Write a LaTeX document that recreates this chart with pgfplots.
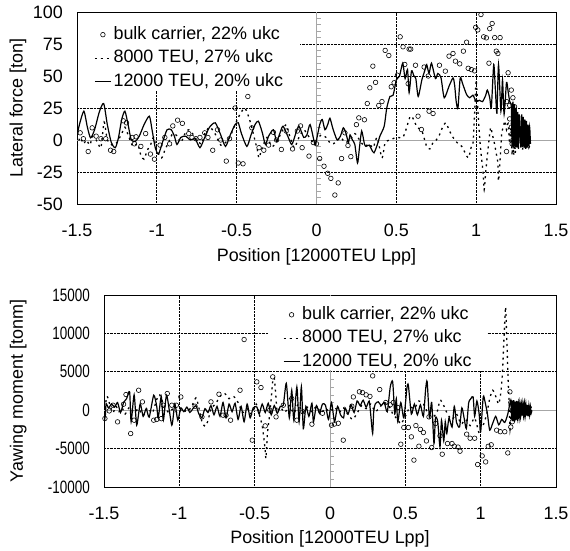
\documentclass[border=0pt]{standalone}
\usepackage{pgfplots}
\pgfplotsset{compat=1.18}
\usepackage{fontspec}
\setmainfont{Liberation Sans}
\newfontfamily\narrowfont{Liberation Sans}[FakeStretch=0.75]
\newcommand{\ff}{\fontsize{18}{21}\selectfont}

\pgfplotsset{
  myaxis/.style={
    scale only axis, xmin=-1.5, xmax=1.5,
    scaled y ticks=false, scaled x ticks=false,
    xtick={-1.5,-1,-0.5,0,0.5,1,1.5},
    xticklabels={-1.5,-1,-0.5,0,0.5,1,1.5},
    major tick length=0pt,
    grid=major,
    major grid style={black, densely dotted, line width=0.8bp},
    axis line style={black, line width=0.8bp},
    tick label style={font=\ff},
    label style={font=\ff},
    xticklabel style={anchor=center, inner sep=0pt, yshift=-26bp},
    yticklabel style={anchor=east, inner sep=0pt, xshift=-14bp},
    legend cell align=left,
    legend image code/.code={\draw[mark repeat=2,mark phase=2,##1] plot coordinates {(0bp,0bp) (8bp,0bp) (16bp,0bp)};},
    legend style={draw=none, fill=none, font=\ff, inner sep=2bp, row sep=2.5bp,
      nodes={inner sep=2bp, text height=13bp, text depth=4bp}},
  },
  bulk/.style={only marks, mark=o, mark size=2.3bp, black, mark options={line width=0.6bp, solid}},
  teu8/.style={black, line width=1.3bp, dash pattern=on 2bp off 4bp, smooth, tension=0.4, mark=none},
  teu12/.style={black, line width=1.2bp, smooth, tension=0.4, mark=none},
}

\begin{document}
\begin{tikzpicture}
\useasboundingbox (0,0) rectangle (570bp,551bp);

% ---------------- top: lateral force ----------------
\begin{axis}[myaxis,
  at={(77bp,347bp)}, anchor=south west,
  width=479bp, height=192bp,
  ymin=-50, ymax=100,
  ytick={-50,-25,0,25,50,75,100},
  yticklabels={-50,-25,0,25,50,75,100},
  xlabel={Position [12000TEU Lpp]},
  ylabel={Lateral force [ton]},
  xlabel style={at={(axis description cs:0.5,-0.275)}, anchor=center},
  ylabel style={at={(axis description cs:-0.123,0.5)}, anchor=center},
  legend style={at={(axis description cs:0.0314,0.948)}, anchor=north west},
]
\draw[gray!70, line width=0.9bp] (axis cs:-1.5,0) -- (axis cs:1.5,0);
\draw[gray!70, line width=0.9bp] (axis cs:0,-50) -- (axis cs:0,100);
\pgfplotsinvokeforeach{-45,-40,-35,-30,-20,-15,-10,-5,5,10,15,20,30,35,40,45,55,60,65,70,80,85,90,95}{\draw[gray!70, line width=0.6bp] (axis cs:0,#1) -- ++(4bp,0bp);}
\fill[white] (rel axis cs:0.002,0.996) rectangle (rel axis cs:0.4656,0.594);

\addplot[bulk] coordinates {
(-1.48,5.6) (-1.46,1) (-1.43,-9) (-1.405,9.5) (-1.38,3) (-1.35,1) (-1.32,1)
(-1.29,-8) (-1.27,-9) (-1.21,15) (-1.19,13.4) (-1.155,2) (-1.13,2.5) (-1.14,-3)
(-1.10,-5) (-1.07,5) (-1.04,-11) (-1.015,-15) (-0.98,-4) (-0.95,2) (-0.92,-3)
(-0.90,11) (-0.87,15.5) (-0.84,13) (-0.80,5) (-0.78,2) (-0.755,1) (-0.73,2)
(-0.70,5.6) (-0.68,2) (-0.65,-8) (-0.62,8) (-0.60,0) (-0.565,-16.5) (-0.545,1)
(-0.51,25) (-0.49,-18) (-0.46,-18.6) (-0.43,34) (-0.405,9.5) (-0.36,-6) (-0.33,-8)
(-0.30,-4) (-0.27,6) (-0.25,0) (-0.22,-7.4) (-0.19,7) (-0.15,-7) (-0.12,7)
(-0.10,11) (-0.09,-6) (-0.047,-12.6) (-0.02,-2) (0.0,-3) (0.02,-14.5) (0.047,-20.5)
(0.07,-26) (0.09,-30) (0.115,-43) (0.136,-33.5) (0.157,-14.5) (0.178,5.6) (0.197,-4.3)
(0.215,-13) (0.25,12) (0.265,17.3) (0.30,15.8) (0.318,28.5) (0.334,40.8) (0.353,57.7)
(0.37,45) (0.39,27) (0.41,30) (0.43,70) (0.453,66) (0.468,41.6) (0.486,44.7)
(0.507,50.6) (0.524,80.6) (0.542,72.8) (0.553,59) (0.574,44) (0.58,71) (0.59,71)
(0.62,58.4) (0.636,18.6) (0.657,8.2) (0.674,57) (0.70,50) (0.705,22.5) (0.73,20.7)
(0.77,58.4) (0.807,53.8) (0.83,65.5) (0.855,67.6) (0.87,61.6) (0.897,59.5) (0.92,69.4)
(0.94,76.4) (0.95,56) (0.97,55) (0.99,54) (0.997,88) (1.01,86) (1.03,98)
(1.047,80.6) (1.064,79.8) (1.08,60) (1.085,87) (1.10,91) (1.116,80) (1.126,69.4)
(1.136,67.6) (1.15,80) (1.2,52.5) (1.22,39) (1.19,30) (1.21,27) (1.23,33) (1.24,26)
(1.21,16.5) (1.22,10) (1.225,5) (1.23,0) (1.225,-3) (1.19,-9)
};
\addlegendentry{bulk carrier, 22\% ukc}

\addplot[teu8] coordinates {
(-1.50,-5) (-1.48,2) (-1.46,-3) (-1.44,0) (-1.42,-4) (-1.40,3) (-1.37,-2) (-1.35,-6)
(-1.33,14) (-1.31,0) (-1.28,-4) (-1.25,-2) (-1.22,5) (-1.20,10) (-1.18,4) (-1.15,-5)
(-1.12,-3) (-1.10,-12) (-1.08,-15) (-1.06,-8) (-1.04,-4) (-1.02,2) (-1.00,-8) (-0.97,-14)
(-0.95,-8) (-0.92,0) (-0.90,5) (-0.87,3) (-0.85,-2) (-0.82,6) (-0.80,8) (-0.77,4)
(-0.75,0) (-0.72,-3) (-0.70,5) (-0.67,10) (-0.64,6) (-0.60,-4) (-0.57,-2) (-0.54,3)
(-0.51,12) (-0.48,20) (-0.45,25) (-0.43,20) (-0.41,12) (-0.39,2) (-0.37,-8) (-0.36,-14)
(-0.34,-6) (-0.31,2) (-0.28,-5) (-0.25,-2) (-0.22,6) (-0.19,12) (-0.17,4) (-0.14,-6)
(-0.11,2) (-0.08,8) (-0.05,3) (-0.02,-2) (0.00,0) (0.03,4) (0.06,2) (0.09,-3)
(0.12,-2) (0.15,2) (0.18,-2) (0.21,0) (0.24,5) (0.27,0) (0.30,-5) (0.33,-3)
(0.355,-6) (0.38,2) (0.41,-14) (0.43,-2) (0.46,0) (0.50,2) (0.54,2) (0.56,8)
(0.585,18) (0.60,18) (0.63,10) (0.66,7) (0.69,-5) (0.71,-7) (0.73,-2) (0.75,0)
(0.77,4) (0.79,10) (0.81,13.4) (0.83,8) (0.85,3) (0.88,-2) (0.91,-5) (0.95,-14)
(0.97,-5) (0.98,-3) (0.99,20) (1.00,47) (1.01,25) (1.02,5) (1.03,-10) (1.043,-25)
(1.05,-39) (1.06,-25) (1.07,-12) (1.09,9.5) (1.10,5) (1.115,-3) (1.125,-10) (1.136,-18)
(1.14,-32) (1.15,-15) (1.16,5) (1.17,10) (1.18,15) (1.19,8) (1.20,13) (1.21,-3)
(1.22,13) (1.225,-12) (1.23,10) (1.235,-12) (1.24,8) (1.245,-10) (1.25,5) (1.26,-4)
(1.28,12) (1.29,-8) (1.30,10) (1.31,-8) (1.32,8) (1.33,-6) (1.34,0)
};
\addlegendentry{8000 TEU, 27\% ukc}

\addplot[teu12] coordinates {
(-1.50,3) (-1.485,12) (-1.457,22.5) (-1.435,10) (-1.415,1.7) (-1.39,8) (-1.36,22)
(-1.333,28.5) (-1.31,12) (-1.285,-2) (-1.26,-6) (-1.24,2) (-1.22,16) (-1.20,22.5)
(-1.18,12) (-1.16,0) (-1.134,-1) (-1.11,3) (-1.08,12) (-1.047,18.6) (-1.03,8)
(-1.01,-6) (-0.99,-11) (-0.965,-2) (-0.936,8) (-0.91,8) (-0.89,3) (-0.874,-3.5)
(-0.85,2) (-0.82,3) (-0.79,0) (-0.76,1) (-0.73,-6) (-0.70,2) (-0.67,10) (-0.634,13.4)
(-0.60,4) (-0.57,-5) (-0.54,4) (-0.51,12) (-0.49,13.4) (-0.47,5) (-0.436,-5) (-0.41,4)
(-0.385,12) (-0.364,14.7) (-0.34,6) (-0.32,-3.5) (-0.30,3) (-0.27,8) (-0.25,-1)
(-0.23,5) (-0.21,10.8) (-0.18,3) (-0.155,-3.5) (-0.13,5) (-0.11,10.8) (-0.08,2)
(-0.06,4) (-0.04,12) (-0.01,-3.5) (0.0,0) (0.02,12) (0.036,16) (0.053,8) (0.07,12)
(0.084,17) (0.10,10) (0.115,4.3) (0.13,0) (0.15,3) (0.168,9.5) (0.185,5) (0.2,-2)
(0.21,4) (0.225,0) (0.24,-3.5) (0.257,-18) (0.27,-5) (0.283,7) (0.30,-3) (0.31,-5)
(0.33,-4) (0.345,-7.4) (0.36,-10) (0.38,-4) (0.397,3) (0.424,10.8) (0.44,25) (0.46,34)
(0.48,35) (0.50,47) (0.52,50) (0.54,60) (0.555,48) (0.57,55) (0.58,37) (0.595,54)
(0.61,50) (0.622,48) (0.637,34) (0.66,47) (0.68,55) (0.69,59) (0.705,52) (0.72,60)
(0.745,48) (0.76,52) (0.78,48.5) (0.80,33) (0.83,42) (0.855,48.5) (0.865,43) (0.875,30)
(0.886,25) (0.9,48.5) (0.915,44) (0.94,35.5) (0.96,33) (0.98,35) (1.0,30) (1.02,31)
(1.04,30) (1.06,35) (1.07,39) (1.085,33) (1.095,25) (1.11,59) (1.12,40) (1.13,21)
(1.14,59) (1.155,22.5) (1.165,47) (1.175,20) (1.19,45) (1.2,38) (1.21,30) (1.22,26)
(1.225,-5) (1.23,30) (1.235,-6) (1.24,28) (1.245,-5) (1.25,25) (1.255,-6) (1.26,22)
(1.265,-7) (1.27,20) (1.28,-6) (1.285,20) (1.29,-5) (1.295,18) (1.30,-6) (1.305,16)
(1.31,-7) (1.315,15) (1.32,-6) (1.325,12) (1.33,-5) (1.335,10) (1.34,-3)
};
\addlegendentry{12000 TEU, 20\% ukc}
\end{axis}

% ---------------- bottom: yawing moment ----------------
\begin{axis}[myaxis,
  at={(104bp,64bp)}, anchor=south west,
  width=452bp, height=192bp,
  ymin=-10000, ymax=15000,
  ytick={-10000,-5000,0,5000,10000,15000},
  yticklabels={-10000,-5000,0,5000,10000,15000},
  yticklabel style={font=\fontsize{18}{21}\selectfont\narrowfont},
  xlabel={Position [12000TEU Lpp]},
  ylabel={Yawing moment [tonm]},
  xlabel style={at={(axis description cs:0.5,-0.27)}, anchor=center},
  ylabel style={at={(axis description cs:-0.19,0.5)}, anchor=center},
  legend style={at={(axis description cs:0.391,0.963)}, anchor=north west},
]
\draw[gray!70, line width=0.9bp] (axis cs:-1.5,0) -- (axis cs:1.5,0);
\draw[gray!70, line width=0.9bp] (axis cs:0,-10000) -- (axis cs:0,15000);
\pgfplotsinvokeforeach{-9,-8,-7,-6,-4,-3,-2,-1,1,2,3,4,6,7,8,9,11,12,13,14}{\draw[gray!70, line width=0.6bp] (axis cs:0,#1000) -- ++(4bp,0bp);}
\fill[white] (rel axis cs:0.363,0.996) rectangle (rel axis cs:0.847,0.609);

\addplot[bulk] coordinates {
(-1.494,-1085) (-1.465,-90) (-1.44,650) (-1.41,-1520) (-1.37,780) (-1.354,2040)
(-1.323,-3040) (-1.30,-1300) (-1.27,2600) (-1.245,1085) (-1.17,-1300) (-1.15,-1200)
(-1.12,-1100) (-1.106,650) (-1.08,2170) (-1.05,650) (-1.02,650) (-0.99,1730)
(-0.896,520) (-0.85,-870) (-0.79,1085) (-0.737,2080) (-0.71,-650) (-0.69,-650)
(-0.66,-1300) (-0.597,2600) (-0.57,9200) (-0.516,-3900) (-0.486,3690) (-0.458,2950)
(-0.43,-2040) (-0.40,0) (-0.38,4340) (-0.358,-870) (-0.31,650) (-0.254,1520)
(-0.22,-1300) (-0.18,-200) (-0.12,-1820) (-0.05,-400) (0.01,-1950) (0.03,-1800)
(0.055,-1700) (0.088,-3900) (0.145,520) (0.155,1730) (0.195,2400) (0.215,2300)
(0.24,2000) (0.265,1800) (0.283,4470) (0.33,2690) (0.37,1000) (0.40,700) (0.42,1000)
(0.45,350) (0.47,-4430) (0.49,-2250) (0.52,-2250) (0.54,-3470) (0.557,-6500)
(0.57,-2000) (0.59,-4690) (0.60,-2500) (0.62,-2900) (0.64,-4000) (0.657,-870)
(0.675,-4860) (0.70,-1730) (0.73,-3340) (0.745,-5730) (0.78,-4340) (0.81,-4340)
(0.825,-4690) (0.863,-5340) (0.85,-4800) (0.907,-3120) (0.93,-3650) (0.96,-3650)
(0.98,-7070) (1.01,-5950) (1.033,-6730) (1.05,-4700) (1.07,-4500) (1.106,-2600)
(1.13,-2800) (1.16,-2800) (1.18,-5560) (1.194,2390) (1.2,1000) (1.21,0) (1.22,-500)
(1.21,-1500) (1.2,-2200) (1.22,700)
};
\addlegendentry{bulk carrier, 22\% ukc}

\addplot[teu8] coordinates {
(-1.50,-500) (-1.48,1800) (-1.46,600) (-1.44,-300) (-1.42,500) (-1.40,-200) (-1.38,300)
(-1.36,-500) (-1.33,400) (-1.30,-300) (-1.27,200) (-1.24,-700) (-1.21,300) (-1.18,-400)
(-1.15,1400) (-1.13,2000) (-1.10,500) (-1.07,-300) (-1.04,200) (-1.01,-400) (-0.98,200)
(-0.95,-200) (-0.92,400) (-0.89,1600) (-0.87,300) (-0.85,-1500) (-0.83,-2100) (-0.81,-1400)
(-0.79,200) (-0.76,800) (-0.73,1800) (-0.70,2200) (-0.67,1500) (-0.64,1800) (-0.61,1000)
(-0.58,-300) (-0.55,200) (-0.52,-500) (-0.49,800) (-0.47,-500) (-0.45,-2000) (-0.44,-3500)
(-0.43,-5200) (-0.425,-6300) (-0.415,-3000) (-0.40,-500) (-0.39,1500) (-0.38,3800)
(-0.37,4200) (-0.36,2000) (-0.35,-200) (-0.33,400) (-0.30,-300) (-0.27,600) (-0.24,-400)
(-0.21,800) (-0.18,-300) (-0.15,400) (-0.12,-200) (-0.09,500) (-0.06,-300) (-0.03,200)
(0.0,-200) (0.03,400) (0.06,-300) (0.09,300) (0.12,-600) (0.15,-1200) (0.18,-400)
(0.21,600) (0.24,200) (0.27,800) (0.30,-200) (0.33,400) (0.36,1000) (0.39,600)
(0.42,-600) (0.45,-1200) (0.47,-1800) (0.50,-800) (0.53,400) (0.56,200) (0.59,1200)
(0.62,800) (0.65,-400) (0.68,-900) (0.71,-300) (0.73,1300) (0.75,800) (0.78,-500)
(0.81,-1200) (0.84,-500) (0.87,-1800) (0.90,-1200) (0.93,-2000) (0.96,-1000) (0.99,-3000)
(1.00,-2200) (1.02,-1800) (1.04,-500) (1.06,1500) (1.08,2600) (1.10,1800) (1.12,800)
(1.135,2500) (1.145,5000) (1.155,9500) (1.165,13450) (1.172,10000) (1.178,6500)
(1.183,3500) (1.19,500) (1.195,-2500) (1.20,-800) (1.205,1200) (1.21,-1500) (1.215,1000)
(1.22,-1200) (1.23,800) (1.24,-900) (1.25,600) (1.27,-700) (1.29,700) (1.31,-600)
(1.33,500) (1.34,0)
};
\addlegendentry{8000 TEU, 27\% ukc}

\addplot[teu12] coordinates {
(-1.50,-1700) (-1.49,-500) (-1.486,870) (-1.47,300) (-1.45,800) (-1.43,400) (-1.41,1000)
(-1.39,-300) (-1.37,1000) (-1.35,1500) (-1.33,2400) (-1.32,-1500) (-1.30,2000)
(-1.283,-1950) (-1.26,800) (-1.24,-800) (-1.22,200) (-1.20,-900) (-1.17,1950) (-1.15,500)
(-1.14,-1000) (-1.12,1800) (-1.106,-1300) (-1.084,1950) (-1.05,-1950) (-1.03,800)
(-1.01,-1300) (-0.99,300) (-0.97,-200) (-0.95,400) (-0.93,-300) (-0.91,200) (-0.89,600)
(-0.87,-500) (-0.85,-1000) (-0.83,200) (-0.81,-300) (-0.79,600) (-0.77,-600) (-0.75,500)
(-0.73,-800) (-0.71,1000) (-0.69,-1000) (-0.67,800) (-0.65,-200) (-0.63,900) (-0.61,-1200)
(-0.59,500) (-0.57,-1500) (-0.55,800) (-0.53,-1000) (-0.51,300) (-0.486,430) (-0.47,-500)
(-0.45,800) (-0.43,-300) (-0.41,900) (-0.39,-600) (-0.37,600) (-0.35,-400) (-0.33,500)
(-0.31,650) (-0.29,3500) (-0.27,-1000) (-0.254,2600) (-0.24,-1300) (-0.22,3040)
(-0.205,-1500) (-0.19,3040) (-0.177,-2390) (-0.16,500) (-0.14,-800) (-0.12,900)
(-0.11,-1520) (-0.09,600) (-0.07,-400) (-0.05,800) (-0.03,650) (-0.01,-1200) (0.01,1000)
(0.03,-1500) (0.05,500) (0.07,-600) (0.09,-1000) (0.10,300) (0.12,-500) (0.14,700)
(0.16,-300) (0.18,1200) (0.20,600) (0.22,1300) (0.24,400) (0.26,1200) (0.27,-500)
(0.283,-3040) (0.29,-200) (0.30,800) (0.32,1100) (0.34,600) (0.36,1000) (0.38,-200)
(0.40,3040) (0.416,3690) (0.43,-500) (0.44,1500) (0.45,-1500) (0.47,1000) (0.49,-1000)
(0.51,2800) (0.52,3260) (0.54,-500) (0.56,800) (0.58,-600) (0.60,700) (0.62,-800)
(0.635,2800) (0.645,3690) (0.66,-1000) (0.675,1000) (0.69,-4340) (0.70,-1000)
(0.715,-1500) (0.73,-4770) (0.74,-1300) (0.755,-4000) (0.765,-1500) (0.775,-3040)
(0.79,-1000) (0.81,-2200) (0.825,500) (0.84,-1600) (0.86,-2170) (0.875,300) (0.89,-1000)
(0.905,-2400) (0.92,900) (0.935,1500) (0.95,1730) (0.96,-800) (0.975,1200) (0.99,-500)
(1.0,-2800) (1.017,1730) (1.03,1000) (1.045,-500) (1.06,-2600) (1.08,-1700) (1.10,-800)
(1.12,-1900) (1.14,-1200) (1.16,-1600) (1.18,-500) (1.2,1300) (1.205,-1200) (1.21,1200)
(1.215,-1400) (1.22,1300) (1.225,-1500) (1.23,1100) (1.235,-1300) (1.24,1200)
(1.245,-1000) (1.25,900) (1.255,-1100) (1.26,1000) (1.265,-900) (1.27,800) (1.275,-700)
(1.28,900) (1.285,-800) (1.29,1000) (1.295,-900) (1.30,800) (1.305,-700) (1.31,700)
(1.315,-800) (1.32,600) (1.325,-600) (1.33,500) (1.335,-400) (1.34,0)
};
\addlegendentry{12000 TEU, 20\% ukc}
\end{axis}
\end{tikzpicture}
\end{document}
